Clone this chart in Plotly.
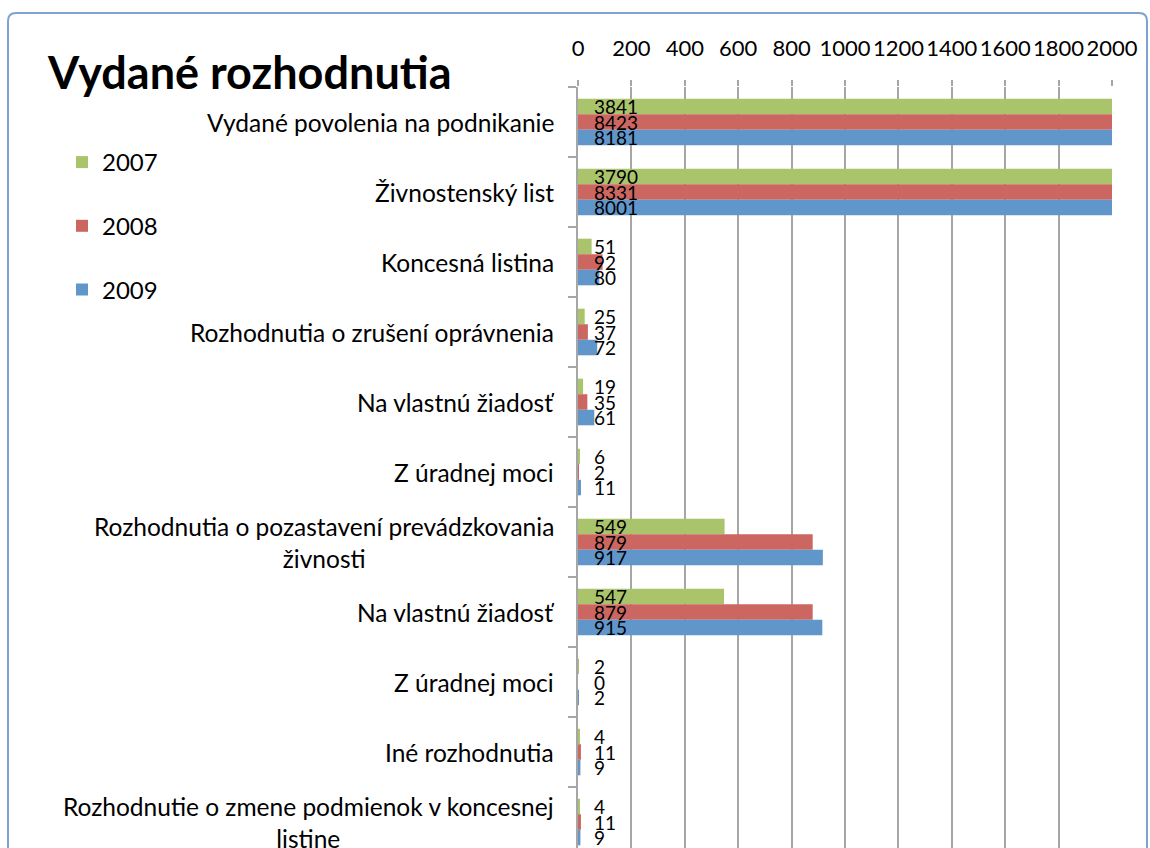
import plotly.graph_objects as go

categories = [
    "Vydané povolenia na podnikanie",
    "Živnostenský list",
    "Koncesná listina",
    "Rozhodnutia o zrušení oprávnenia",
    "Na vlastnú žiadosť",
    "Z úradnej moci",
    "Rozhodnutia o pozastavení prevádzkovania<br>živnosti",
    "Na vlastnú žiadosť",
    "Z úradnej moci",
    "Iné rozhodnutia",
    "Rozhodnutie o zmene podmienok v koncesnej<br>listine",
]
years = ["2007", "2008", "2009"]
values_2007 = [3841, 3790, 51, 25, 19, 6, 549, 547, 2, 4, 4]
values_2008 = [8423, 8331, 92, 37, 35, 2, 879, 879, 0, 11, 11]
values_2009 = [8181, 8001, 80, 72, 61, 11, 917, 915, 2, 9, 9]
x_ticks = [0, 200, 400, 600, 800, 1000, 1200, 1400, 1600, 1800, 2000]

series = [values_2007, values_2008, values_2009]
colors = ["#A9C46B", "#CC6660", "#6196CB"]
FONT = "Lato"

W, H = 1150, 848
L, R, T, B = 578, 38, 87, 0
pw, ph = W - L - R, H - T - B
band = 70.0
n_vis = ph / band  # visible category bands

idx = list(range(len(categories)))
bar_w = 0.222

fig = go.Figure()
for k, (yr, vals, col) in enumerate(zip(years, series, colors)):
    fig.add_trace(go.Bar(
        y=idx, x=vals, orientation="h", name=yr,
        marker=dict(color=col, line=dict(width=0)),
        legendgroup=yr,
    ))

# data labels at inside base
offsets = [-bar_w, 0, bar_w]
annotations = []
for k, vals in enumerate(series):
    for i, v in enumerate(vals):
        annotations.append(dict(
            x=0, y=i + offsets[k], xref="x", yref="y", text=str(v),
            showarrow=False, xanchor="left", yanchor="middle", xshift=14,
            font=dict(family=FONT, size=19, color="black"),
        ))

# category labels
for i, c in enumerate(categories):
    annotations.append(dict(
        x=0, y=i, xref="paper", yref="y", text=c, showarrow=False,
        xanchor="right", yanchor="middle", xshift=-22, align="center",
        font=dict(family=FONT, size=24.5, color="black"),
    ))

# chart border (rounded top corners)
def px2paper_x(px):
    return (px - L) / pw

def px2paper_y(py):
    return (H - B - py) / ph

x0, x1 = px2paper_x(8), px2paper_x(1147)
y0, y1 = px2paper_y(862), px2paper_y(13)
rx, ry = 8 / pw, 8 / ph
path = (f"M {x0},{y0} L {x0},{y1 - ry} Q {x0},{y1} {x0 + rx},{y1} "
        f"L {x1 - rx},{y1} Q {x1},{y1} {x1},{y1 - ry} L {x1},{y0}")

fig.update_layout(
    width=W, height=H,
    margin=dict(l=L, r=R, t=T, b=B, autoexpand=False),
    paper_bgcolor="white", plot_bgcolor="white",
    barmode="group", bargap=1 - 3 * bar_w, bargroupgap=0,
    title=dict(text="<b>Vydané rozhodnutia</b>", x=48 / W, xref="container", xanchor="left",
               y=1 - 73 / H, yref="container", yanchor="middle",
               font=dict(family=FONT, size=45, color="black")),
    showlegend=True,
    legend=dict(x=62 / W, y=1 - 140 / H, xref="container", yref="container",
                xanchor="left", yanchor="top", tracegroupgap=29.5, traceorder="grouped",
                font=dict(family=FONT, size=24, color="black"), bgcolor="rgba(0,0,0,0)"),
    xaxis=dict(side="top", range=[0, 2000], tickvals=x_ticks, ticktext=[str(t) for t in x_ticks],
               showgrid=True, gridcolor="#A6A6A6", gridwidth=1.5, zeroline=False, showline=False,
               ticks="outside", ticklen=6, tickcolor="#A6A6A6", tickwidth=1.5,
               ticklabelstandoff=15,
               tickfont=dict(family=FONT, size=22, color="black"), fixedrange=True),
    yaxis=dict(range=[-0.5 + n_vis, -0.5], tickvals=[i - 0.5 for i in range(len(categories) + 1)],
               showticklabels=False, showgrid=False, zeroline=False, showline=True,
               linecolor="#A6A6A6", linewidth=2, ticks="outside", ticklen=8,
               tickcolor="#A6A6A6", tickwidth=2, fixedrange=True),
    annotations=annotations,
    shapes=[dict(type="path", path=path, xref="paper", yref="paper",
                 line=dict(color="#7FA3CF", width=2), layer="above")],
)

fig.write_html("out.html", config={"displayModeBar": False},
               post_script="document.body.style.margin='0';document.body.style.padding='0';")
